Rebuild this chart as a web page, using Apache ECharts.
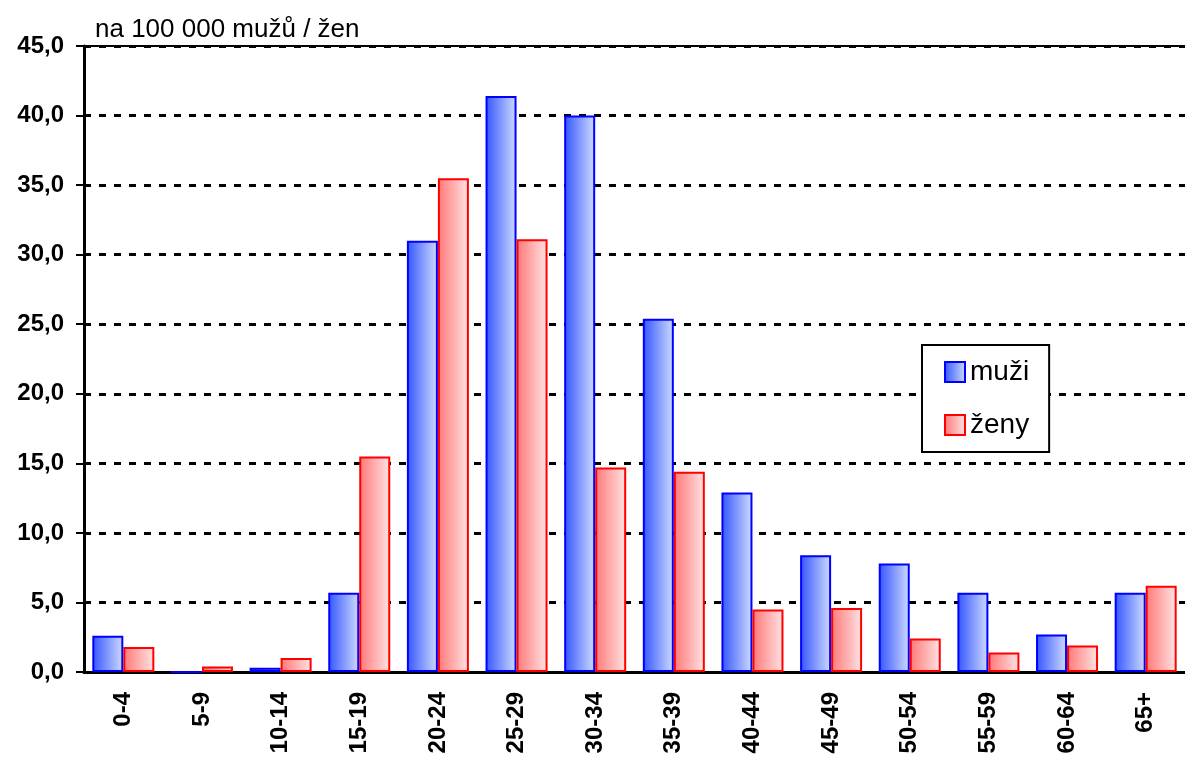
<!DOCTYPE html>
<html>
<head>
<meta charset="utf-8">
<script src="https://cdn.jsdelivr.net/npm/echarts@6/dist/echarts.min.js"></script>
<style>
html,body{margin:0;padding:0;background:#fff;}
#chart{width:1185px;height:761px;}
</style>
</head>
<body>
<div id="chart"></div>
<script>
const categories = ['0-4','5-9','10-14','15-19','20-24','25-29','30-34','35-39','40-44','45-49','50-54','55-59','60-64','65+'];
const muzi = [2.6, 0, 0.3, 5.7, 31.0, 41.4, 40.0, 25.4, 12.9, 8.4, 7.8, 5.7, 2.7, 5.7];
const zeny = [1.8, 0.4, 1.0, 15.5, 35.5, 31.1, 14.7, 14.4, 4.5, 4.6, 2.4, 1.4, 1.9, 6.2];
const seriesNames = ['muži', 'ženy'];
const unitLabel = 'na 100 000 mužů / žen';

const font = 'Liberation Sans, Arial, sans-serif';
const blueGrad = new echarts.graphic.LinearGradient(0,0,1,0,[
  {offset:0,color:'#3355ff'},{offset:1,color:'#d0dcff'}]);
const redGrad = new echarts.graphic.LinearGradient(0,0,1,0,[
  {offset:0,color:'#ff7777'},{offset:1,color:'#ffe4e4'}]);

const chart = echarts.init(document.getElementById('chart'));
chart.setOption({
  animation:false,
  backgroundColor:'#fff',
  title:{text:unitLabel,left:90,top:12,textStyle:{fontFamily:font,fontSize:26,fontWeight:'normal',color:'#000'}},
  legend:{
    orient:'vertical',left:922,top:345,
    icon:'rect',
    itemWidth:20,itemHeight:20,itemGap:25,
    borderColor:'#000',borderWidth:2,
    padding:[13,20,13,22],
    backgroundColor:'#fff',
    textStyle:{fontFamily:font,fontSize:28,color:'#000'},
    data:seriesNames
  },
  grid:{left:84,right:0,top:46,bottom:89,containLabel:false},
  xAxis:{
    type:'category',data:categories,
    axisLine:{lineStyle:{color:'#000',width:3}},
    axisTick:{show:false},
    axisLabel:{rotate:90,fontFamily:font,fontSize:24,fontWeight:'bold',color:'#000',margin:20}
  },
  yAxis:{
    type:'value',min:0,max:45,interval:5,
    axisLine:{show:true,lineStyle:{color:'#000',width:3}},
    axisTick:{show:true,length:8,lineStyle:{color:'#000',width:2}},
    axisLabel:{fontFamily:font,fontSize:24,fontWeight:'bold',color:'#000',margin:20,
      formatter:v=>v.toFixed(1).replace('.',',')},
    splitLine:{show:true,lineStyle:{color:'#000',width:3,type:[7,8]}}
  },
  series:[
    {name:seriesNames[0],type:'bar',data:muzi,barWidth:31,barGap:'0%',
     itemStyle:{color:blueGrad,borderColor:'#0000ff',borderWidth:2},
     markLine:{silent:true,symbol:'none',label:{show:false},lineStyle:{color:'#000',type:'solid',width:2},data:[{yAxis:45}]}},
    {name:seriesNames[1],type:'bar',data:zeny,barWidth:31,
     itemStyle:{color:redGrad,borderColor:'#ff0000',borderWidth:2}}
  ]
});
</script>
</body>
</html>
